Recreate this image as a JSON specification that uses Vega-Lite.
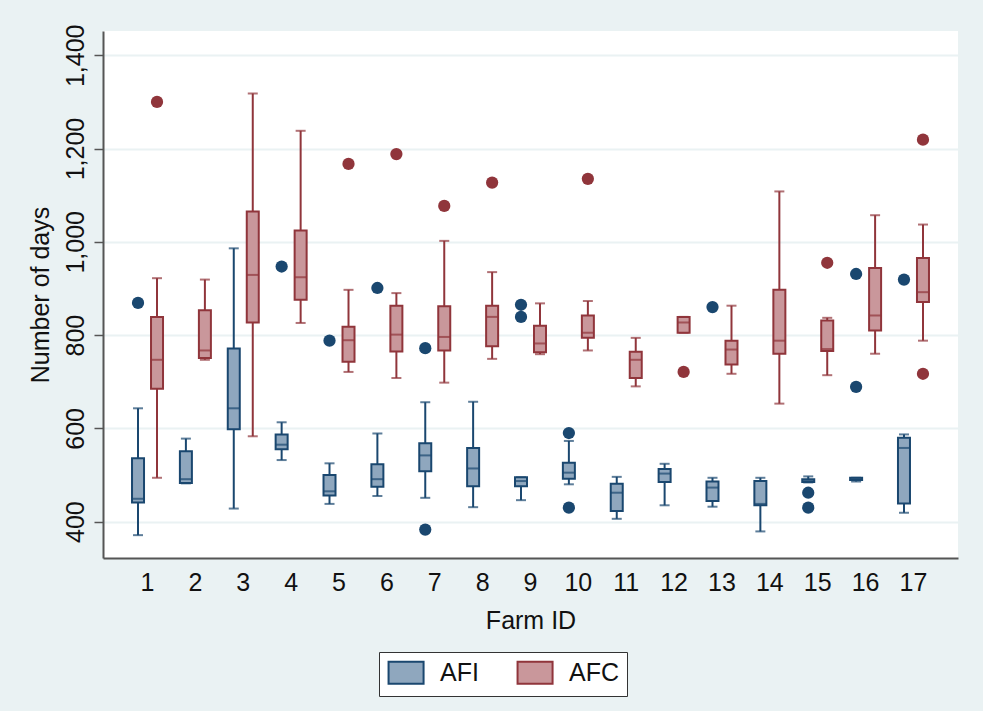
{
  "$schema": "https://vega.github.io/schema/vega-lite/v6.json",
  "width": 855,
  "height": 527,
  "autosize": {"type": "none"},
  "padding": {"left": 103, "top": 31, "right": 25, "bottom": 153},
  "background": "#EAF2F3",
  "config": {
    "font": "Liberation Sans",
    "view": {"fill": "white", "stroke": null},
    "axis": {"labelColor": "#111", "titleColor": "#111", "titleFontWeight": "normal", "labelFont": "Liberation Sans", "titleFont": "Liberation Sans"},
    "legend": {"labelColor": "#111"}
  },
  "datasets": {
    "boxes": [
      {"farm": 1, "group": "AFI", "lower": 371, "q1": 441, "median": 449, "q3": 536, "upper": 643},
      {"farm": 1, "group": "AFC", "lower": 494, "q1": 685, "median": 747, "q3": 839, "upper": 922},
      {"farm": 2, "group": "AFI", "lower": 482, "q1": 483, "median": 491, "q3": 551, "upper": 578},
      {"farm": 2, "group": "AFC", "lower": 747, "q1": 751, "median": 767, "q3": 853, "upper": 919},
      {"farm": 3, "group": "AFI", "lower": 428, "q1": 598, "median": 643, "q3": 771, "upper": 986},
      {"farm": 3, "group": "AFC", "lower": 583, "q1": 827, "median": 929, "q3": 1065, "upper": 1318},
      {"farm": 4, "group": "AFI", "lower": 532, "q1": 555, "median": 565, "q3": 587, "upper": 613},
      {"farm": 4, "group": "AFC", "lower": 826, "q1": 876, "median": 924, "q3": 1024, "upper": 1238},
      {"farm": 5, "group": "AFI", "lower": 438, "q1": 456, "median": 465, "q3": 500, "upper": 525},
      {"farm": 5, "group": "AFC", "lower": 721, "q1": 743, "median": 789, "q3": 818, "upper": 897},
      {"farm": 6, "group": "AFI", "lower": 455, "q1": 475, "median": 491, "q3": 523, "upper": 589},
      {"farm": 6, "group": "AFC", "lower": 708, "q1": 765, "median": 801, "q3": 863, "upper": 890},
      {"farm": 7, "group": "AFI", "lower": 451, "q1": 508, "median": 542, "q3": 568, "upper": 656},
      {"farm": 7, "group": "AFC", "lower": 698, "q1": 767, "median": 796, "q3": 862, "upper": 1002},
      {"farm": 8, "group": "AFI", "lower": 431, "q1": 476, "median": 514, "q3": 558, "upper": 657},
      {"farm": 8, "group": "AFC", "lower": 749, "q1": 776, "median": 839, "q3": 863, "upper": 935},
      {"farm": 9, "group": "AFI", "lower": 446, "q1": 476, "median": 487, "q3": 495, "upper": 495},
      {"farm": 9, "group": "AFC", "lower": 759, "q1": 763, "median": 782, "q3": 820, "upper": 868},
      {"farm": 10, "group": "AFI", "lower": 480, "q1": 492, "median": 505, "q3": 526, "upper": 573},
      {"farm": 10, "group": "AFC", "lower": 767, "q1": 794, "median": 805, "q3": 842, "upper": 873},
      {"farm": 11, "group": "AFI", "lower": 406, "q1": 423, "median": 462, "q3": 481, "upper": 496},
      {"farm": 11, "group": "AFC", "lower": 690, "q1": 708, "median": 747, "q3": 764, "upper": 794},
      {"farm": 12, "group": "AFI", "lower": 435, "q1": 485, "median": 503, "q3": 513, "upper": 524},
      {"farm": 12, "group": "AFC", "lower": 805, "q1": 805, "median": 827, "q3": 839, "upper": 839},
      {"farm": 13, "group": "AFI", "lower": 432, "q1": 444, "median": 473, "q3": 486, "upper": 494},
      {"farm": 13, "group": "AFC", "lower": 717, "q1": 737, "median": 769, "q3": 788, "upper": 863},
      {"farm": 14, "group": "AFI", "lower": 379, "q1": 435, "median": 438, "q3": 487, "upper": 494},
      {"farm": 14, "group": "AFC", "lower": 653, "q1": 760, "median": 788, "q3": 897, "upper": 1108},
      {"farm": 15, "group": "AFI", "lower": 484, "q1": 485, "median": 487, "q3": 491, "upper": 497},
      {"farm": 15, "group": "AFC", "lower": 714, "q1": 766, "median": 770, "q3": 831, "upper": 837},
      {"farm": 16, "group": "AFI", "lower": 486, "q1": 489, "median": 492, "q3": 494, "upper": 494},
      {"farm": 16, "group": "AFC", "lower": 760, "q1": 810, "median": 842, "q3": 944, "upper": 1057},
      {"farm": 17, "group": "AFI", "lower": 419, "q1": 439, "median": 558, "q3": 580, "upper": 587},
      {"farm": 17, "group": "AFC", "lower": 788, "q1": 871, "median": 892, "q3": 965, "upper": 1037}
    ],
    "outliers": [
      {"farm": 1, "group": "AFI", "value": 869},
      {"farm": 1, "group": "AFC", "value": 1300},
      {"farm": 4, "group": "AFI", "value": 947},
      {"farm": 5, "group": "AFI", "value": 788},
      {"farm": 5, "group": "AFC", "value": 1167},
      {"farm": 6, "group": "AFI", "value": 901},
      {"farm": 6, "group": "AFC", "value": 1188},
      {"farm": 7, "group": "AFI", "value": 772},
      {"farm": 7, "group": "AFI", "value": 383},
      {"farm": 7, "group": "AFC", "value": 1077},
      {"farm": 8, "group": "AFC", "value": 1127},
      {"farm": 9, "group": "AFI", "value": 865},
      {"farm": 9, "group": "AFI", "value": 839},
      {"farm": 10, "group": "AFI", "value": 590},
      {"farm": 10, "group": "AFI", "value": 430},
      {"farm": 10, "group": "AFC", "value": 1135},
      {"farm": 12, "group": "AFC", "value": 721},
      {"farm": 13, "group": "AFI", "value": 860},
      {"farm": 15, "group": "AFI", "value": 462},
      {"farm": 15, "group": "AFI", "value": 430},
      {"farm": 15, "group": "AFC", "value": 955},
      {"farm": 16, "group": "AFI", "value": 931},
      {"farm": 16, "group": "AFI", "value": 689},
      {"farm": 17, "group": "AFI", "value": 919},
      {"farm": 17, "group": "AFC", "value": 1219},
      {"farm": 17, "group": "AFC", "value": 717}
    ]
  },
  "encoding": {
    "x": {
      "field": "farm", "type": "ordinal",
      "scale": {"paddingOuter": 0.43, "paddingInner": 0},
      "axis": {
        "title": "Farm ID", "labelAngle": 0, "ticks": false, "grid": false,
        "domainColor": "#555", "domainWidth": 2,
        "labelFontSize": 25, "labelPadding": 12,
        "titleFontSize": 25, "titlePadding": 13
      }
    },
    "xOffset": {
      "field": "group", "type": "nominal",
      "scale": {"domain": ["AFI", "AFC"], "paddingOuter": 0.26, "paddingInner": 0}
    }
  },
  "layer": [
    {
      "data": {"name": "boxes"},
      "mark": {"type": "rule", "strokeWidth": 2},
      "encoding": {
        "y": {
          "field": "lower", "type": "quantitative",
          "scale": {"domain": [322, 1452], "nice": false, "zero": false},
          "axis": {
            "title": "Number of days", "values": [400, 600, 800, 1000, 1200, 1400], "format": ",.0f",
            "labelAngle": 270, "labelFontSize": 25, "labelPadding": 6,
            "domainColor": "#555", "domainWidth": 2,
            "tickColor": "#555", "tickSize": 9, "tickWidth": 1.5,
            "gridColor": "#EAF2F3", "gridWidth": 2,
            "titleFontSize": 25, "titlePadding": 10
          }
        },
        "y2": {"field": "upper"},
        "color": {"field": "group", "type": "nominal", "scale": {"domain": ["AFI", "AFC"], "range": ["#1A476F", "#90353B"]}, "legend": null}
      }
    },
    {
      "data": {"name": "boxes"},
      "mark": {"type": "tick", "thickness": 2, "size": 10},
      "encoding": {
        "y": {"field": "lower", "type": "quantitative"},
        "color": {"field": "group", "type": "nominal", "legend": null}
      }
    },
    {
      "data": {"name": "boxes"},
      "mark": {"type": "tick", "thickness": 2, "size": 10},
      "encoding": {
        "y": {"field": "upper", "type": "quantitative"},
        "color": {"field": "group", "type": "nominal", "legend": null}
      }
    },
    {
      "data": {"name": "boxes"},
      "mark": {"type": "bar", "strokeWidth": 2, "size": 12},
      "encoding": {
        "y": {"field": "q1", "type": "quantitative"},
        "y2": {"field": "q3"},
        "fill": {
          "field": "group", "type": "nominal", "sort": ["AFI", "AFC"],
          "scale": {"range": ["#8FA7BE", "#C9979B"]},
          "legend": {
            "title": null, "orient": "none", "legendX": 276, "legendY": 621,
            "direction": "horizontal", "fillColor": "white", "strokeColor": "#333",
            "padding": 8, "labelFontSize": 25, "labelOffset": 28, "columnPadding": 34,
            "symbolType": "M-1,-1H2.2V1H-1Z", "symbolSize": 479, "symbolStrokeWidth": 2,
            "encode": {"symbols": {"update": {"stroke": {"scale": "stroke", "field": "value"}, "strokeWidth": {"value": 2}}}}
          }
        },
        "stroke": {
          "field": "group", "type": "nominal",
          "scale": {"domain": ["AFI", "AFC"], "range": ["#1A476F", "#90353B"]},
          "legend": null
        }
      }
    },
    {
      "data": {"name": "boxes"},
      "mark": {"type": "tick", "thickness": 2, "size": 12},
      "encoding": {
        "y": {"field": "median", "type": "quantitative"},
        "color": {"field": "group", "type": "nominal", "legend": null}
      }
    },
    {
      "data": {"name": "outliers"},
      "mark": {"type": "point", "filled": true, "size": 150, "opacity": 1},
      "encoding": {
        "y": {"field": "value", "type": "quantitative"},
        "color": {"field": "group", "type": "nominal", "legend": null}
      }
    }
  ]
}
